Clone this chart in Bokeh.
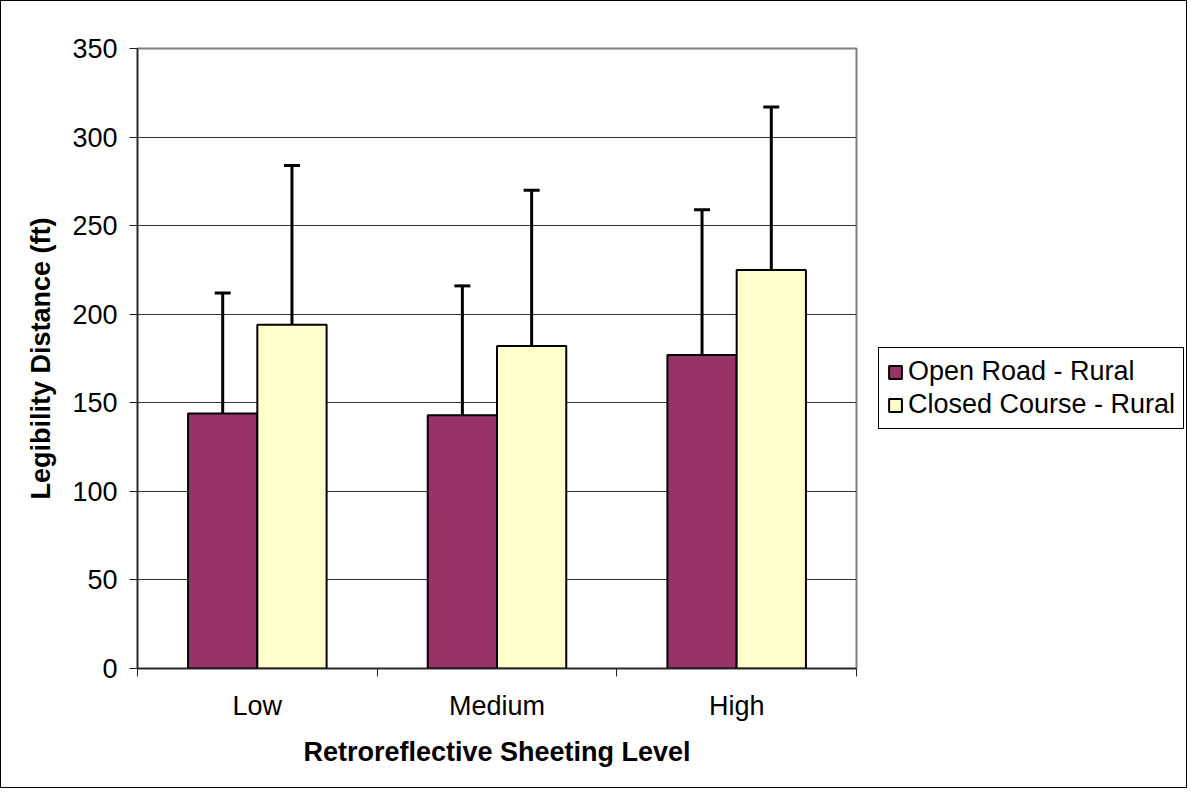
import numpy as np
from bokeh.plotting import figure
from bokeh.layouts import row
from bokeh.models import (ColumnDataSource, Range1d, FixedTicker, Whisker, TeeHead,
                          Legend, LegendItem)
from bokeh.embed import file_html
from bokeh.resources import INLINE

categories = ["Low", "Medium", "High"]
series_names = ["Open Road - Rural", "Closed Course - Rural"]
series_colors = ["#993366", "#FFFFCC"]
open_road = [144, 143, 177]
open_road_upper = [212, 216, 259]
closed_course = [194, 182, 225]
closed_course_upper = [284, 270, 317]
y_ticks = [0, 50, 100, 150, 200, 250, 300, 350]

FONT = "Liberation Sans"
BAR_W = 0.289
OFF = 0.1445
H = 786

centers = np.arange(len(categories)) + 0.5
src_open = ColumnDataSource(dict(x=centers - OFF, top=open_road, up=open_road_upper))
src_closed = ColumnDataSource(dict(x=centers + OFF, top=closed_course, up=closed_course_upper))
sources = [src_open, src_closed]

p = figure(width=857, height=H, output_backend="svg", toolbar_location=None,
           x_range=Range1d(0, len(categories)), y_range=Range1d(0, 350),
           min_border_left=136, min_border_right=2, min_border_top=47, min_border_bottom=119)

for src, col in zip(sources, series_colors):
    p.vbar(x="x", top="top", width=BAR_W, source=src,
           fill_color=col, line_color="black", line_width=2)

for src in sources:
    w = Whisker(base="x", upper="up", lower="top", source=src,
                line_color="black", line_width=3,
                upper_head=TeeHead(size=16, line_color="black", line_width=3),
                lower_head=None)
    p.add_layout(w)

# axes
p.xaxis.ticker = FixedTicker(ticks=list(centers), minor_ticks=list(range(len(categories) + 1)))
p.xaxis.major_label_overrides = {float(c): lab for c, lab in zip(centers, categories)}
p.xaxis.major_tick_out = 0
p.xaxis.major_tick_in = 0
p.xaxis.minor_tick_out = 8
p.xaxis.minor_tick_in = 0
p.xaxis.minor_tick_line_color = "#222222"
p.xaxis.minor_tick_line_width = 1
p.xaxis.axis_label = "Retroreflective Sheeting Level"
p.xaxis.major_label_standoff = 14
p.xaxis.axis_label_standoff = 13

p.yaxis.ticker = FixedTicker(ticks=y_ticks)
p.yaxis.minor_tick_line_color = None
p.yaxis.major_tick_out = 8
p.yaxis.major_tick_in = 0
p.yaxis.major_label_standoff = 12
p.yaxis.axis_label = "Legibility Distance (ft)"
p.yaxis.axis_label_standoff = 13

for ax in (p.xaxis, p.yaxis):
    ax.axis_line_color = "#222222"
    ax.axis_line_width = 1.5
    ax.major_tick_line_color = "#222222"
    ax.major_tick_line_width = 1
    ax.major_label_text_font = FONT
    ax.major_label_text_font_size = "27px"
    ax.major_label_text_color = "black"
    ax.axis_label_text_font = FONT
    ax.axis_label_text_font_size = "27px"
    ax.axis_label_text_font_style = "bold"
    ax.axis_label_text_color = "black"

p.xgrid.grid_line_color = None
p.ygrid.grid_line_color = "#333333"
p.ygrid.grid_line_width = 1
p.outline_line_color = "#808080"
p.outline_line_width = 2
p.background_fill_color = "white"
p.border_fill_color = "white"

# legend panel (separate figure placed to the right)
pl = figure(width=328, height=H, output_backend="svg", toolbar_location=None,
            x_range=Range1d(0, 1), y_range=Range1d(0, 1),
            min_border=0, min_border_left=0, min_border_right=0,
            min_border_top=0, min_border_bottom=0)
pl.axis.visible = False
pl.grid.visible = False
pl.outline_line_color = None
pl.background_fill_color = "white"
pl.border_fill_color = "white"

items = []
for name, col, src in zip(series_names, series_colors, sources):
    r = pl.vbar(x="x", top="top", width=BAR_W, source=src, fill_color=col,
                line_color="black", line_width=2, visible=False)
    items.append(LegendItem(label=name, renderers=[r]))

legend = Legend(items=items, location=(20, 239))
legend.label_text_font = FONT
legend.label_text_font_size = "27px"
legend.label_text_color = "black"
legend.glyph_width = 16
legend.glyph_height = 16
legend.label_standoff = 5
legend.spacing = 2
legend.padding = 8
legend.margin = 0
legend.border_line_color = "black"
legend.border_line_width = 1
legend.border_line_alpha = 1
legend.background_fill_color = "white"
legend.background_fill_alpha = 1
legend.inactive_fill_alpha = 0
legend.click_policy = "none"
pl.add_layout(legend)

layout = row(p, pl, spacing=0)
layout.styles = {"border": "1px solid black", "background-color": "white"}

open("out.html", "w").write(file_html(layout, INLINE))
